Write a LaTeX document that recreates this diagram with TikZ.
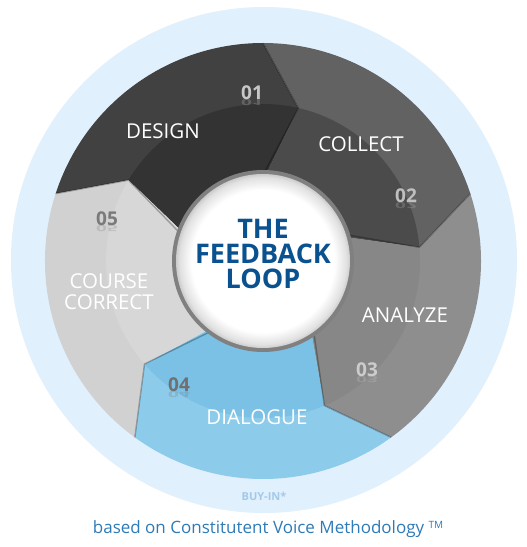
\documentclass[tikz,border=0pt]{standalone}
\usepackage{fontspec}
\setmainfont{Open Sans}
\usetikzlibrary{calc}
\definecolor{ringblue}{HTML}{E0F0FC}
\definecolor{cDesign}{HTML}{414141}
\definecolor{cDesignIn}{HTML}{333333}
\definecolor{cCollect}{HTML}{626262}
\definecolor{cCollectIn}{HTML}{4B4B4B}
\definecolor{cAnalyze}{HTML}{8E8E8E}
\definecolor{cAnalyzeIn}{HTML}{878787}
\definecolor{cDialogue}{HTML}{8DCBEB}
\definecolor{cDialogueIn}{HTML}{7BC1E6}
\definecolor{cCourse}{HTML}{D1D1D1}
\definecolor{cCourseIn}{HTML}{D7D7D7}
\definecolor{titleblue}{HTML}{0A5190}
\definecolor{footblue}{HTML}{2E7BB8}
\definecolor{buyblue}{HTML}{A4C9E8}
\newcommand{\segp}[1]{(#1+72:218) arc[start angle=#1+72,end angle=#1,radius=218] -- (#1-13:157) -- (#1:80) arc[start angle=#1,end angle=#1+72,radius=80] -- (#1+59:157) -- cycle}
\pgfdeclareradialshading{whitecore}{\pgfpoint{0bp}{0bp}}{color(0bp)=(white); color(20.5bp)=(white); color(24bp)=(black!12); color(25bp)=(black!20); color(50bp)=(black!20)}
\begin{document}
\begin{tikzpicture}[x=1pt,y=1pt,
  lbl/.style={inner sep=0pt, text height=0.714em, text depth=0pt, text=white, font=\fontsize{20.5}{24}\selectfont},
  num/.style={inner sep=0pt, text height=0.714em, text depth=0pt, font=\fontsize{19}{22}\selectfont\bfseries},
  numref/.style={num, yscale=-0.45, transform shape, anchor=south, opacity=0.25},
  ttl/.style={inner sep=0pt, text height=0.714em, text depth=0pt, text=titleblue, font=\fontsize{27}{30}\selectfont\bfseries},
  edge/.style={draw=black, draw opacity=0.28, line width=1.4pt, line join=round}
]
\useasboundingbox (-263,-286) rectangle (264,261);
\fill[white] (-263,-286) rectangle (264,261);
\fill[ringblue] (1,1) circle (253);

% segments
\foreach \t/\c/\ci in {90/cDesign/cDesignIn, 18/cCollect/cCollectIn, -54/cAnalyze/cAnalyzeIn, -126/cDialogue/cDialogueIn, -198/cCourse/cCourseIn}{
  \fill[\c] \segp{\t};
  \begin{scope}
    \clip \segp{\t};
    \fill[\ci] (0,0) circle (157);
  \end{scope}
}
% chevron edges
\foreach \t in {90,18,-54,-126,-198}{
  \draw[edge] (\t:218) -- (\t-13:157) -- (\t:86);
}

% centre
\fill[black!50] (0,0) circle (91);
\shade[shading=whitecore] (0,0) circle (87);

% labels
\node[lbl] (design) at (-100,126) {DESIGN};
\node[lbl] (collect) at (98,113) {COLLECT};
\node[lbl] (analyze) at (142,-58) {ANALYZE};
\node[lbl] (dialogue) at (-6,-160) {DIALOGUE};
\node[lbl] (course) at (-154,-24) {COURSE};
\node[lbl] (correct) at (-154,-45) {CORRECT};

\node[num, text=black!22] (n1) at (-11,165) {01};
\node[numref, text=black!22] (n1r) at (n1.south) {01};
\node[num, text=black!25] (n2) at (143,62) {02};
\node[numref, text=black!25] (n2r) at (n2.south) {02};
\node[num, text=black!20] (n3) at (104,-112) {03};
\node[numref, text=black!20] (n3r) at (n3.south) {03};
\node[num, text=black!56] (n4) at (-84,-127) {04};
\node[numref, text=black!56] (n4r) at (n4.south) {04};
\node[num, text=black!52] (n5) at (-156,39) {05};
\node[numref, text=black!52] (n5r) at (n5.south) {05};

\node[ttl] (the) at (0,26.5) {THE};
\node[ttl] (feedback) at (0,1) {FEEDBACK};
\node[ttl] (loop) at (0,-23.5) {LOOP};

\node[inner sep=0pt, text height=0.714em, text depth=0pt, text=buyblue, font=\fontsize{11}{13}\selectfont\bfseries] (buyin) at (1,-236) {BUY-IN*};
\node[inner sep=0pt, text height=0.714em, text depth=0pt, text=footblue, font=\fontsize{17}{20}\selectfont] (foot) at (5,-269) {based on Constitutent Voice Methodology \raisebox{0.55ex}{\fontsize{10}{12}\selectfont TM}};
\end{tikzpicture}
\end{document}
